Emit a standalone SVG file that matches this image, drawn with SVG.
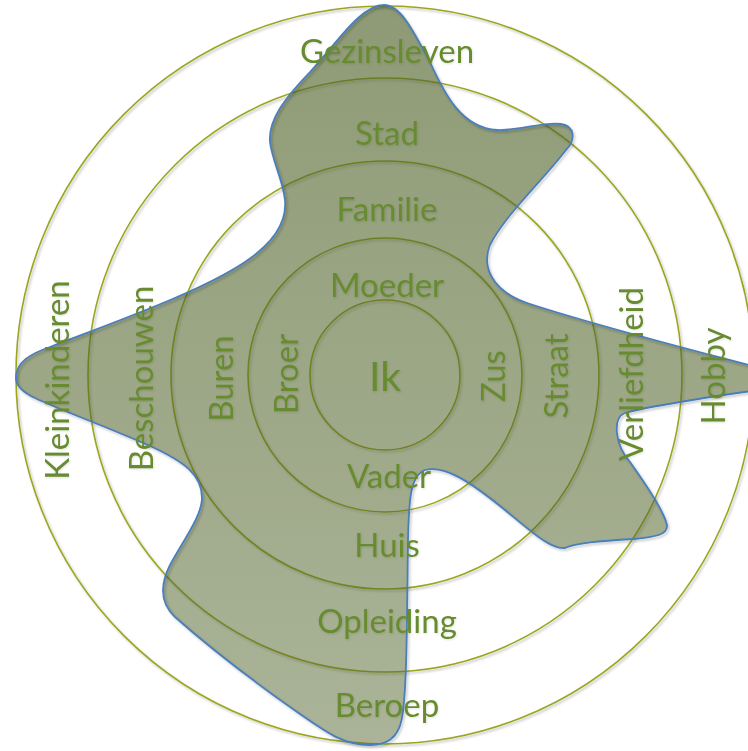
<svg xmlns="http://www.w3.org/2000/svg" width="748" height="751" viewBox="0 0 748 751">
  <defs>
    <filter id="shade" x="-10%" y="-10%" width="120%" height="120%">
      <feDropShadow dx="1.5" dy="1.8" stdDeviation="1.3" flood-color="#000" flood-opacity="0.25"/>
    </filter>
    <filter id="txtShade" x="-10%" y="-20%" width="120%" height="140%">
      <feDropShadow dx="0.8" dy="1" stdDeviation="0.8" flood-color="#000" flood-opacity="0.12"/>
    </filter>
    <linearGradient id="blobFill" gradientUnits="userSpaceOnUse" x1="0" y1="5" x2="0" y2="745">
      <stop offset="0" stop-color="#4f6228" stop-opacity="0.64"/>
      <stop offset="1" stop-color="#4f6228" stop-opacity="0.48"/>
    </linearGradient>
    <path id="blobOutline" d="M 16,378
      C 16,362 30,354 50,347
      C 120,320 200,292 245,262
      C 275,242 287,222 285,200
      C 283,180 272,160 270,142
      C 268,120 285,98 310,72
      C 335,46 360,5 384,5
      C 400,5 412,28 430,62
      C 445,95 462,128 497,130
      C 520,131 545,121 561,124
      C 575,126 576,140 566,150
      C 545,178 505,215 490,245
      C 482,265 490,290 527,303
      C 600,327 700,352 760,368
      C 778,373 778,388 760,390
      C 720,395 640,408 625,413
      C 612,418 615,445 630,462
      C 650,490 665,515 667,525
      C 668,535 655,537 634,539
      C 600,541 575,543 565,548
      C 550,550 530,530 500,506
      C 470,482 445,465 425,470
      C 410,476 409,500 408,540
      C 407,620 407,690 402,718
      C 398,740 385,745 370,745
      C 345,745 330,735 300,714
      C 260,686 210,648 175,617
      C 160,603 160,585 170,565
      C 185,538 202,515 202,498
      C 202,475 185,462 150,446
      C 100,424 60,410 35,398
      C 22,392 16,386 16,378 Z"/>
  </defs>
  <style>
    .ring { fill: none; stroke: #9ba61c; stroke-width: 1.6; }
    .blob { fill: url(#blobFill); stroke: none; }
    .edge { fill: none; stroke: #4a7ebb; stroke-width: 1.8; stroke-linejoin: round; }
    .lbl { font-family: Lato, "Open Sans", "Liberation Sans", sans-serif; font-size: 33px; fill: #678b30; text-anchor: middle; }
    .big { font-size: 41px; }
  </style>

  <rect width="748" height="751" fill="#ffffff"/>

  <!-- concentric rings -->
  <g id="rings" filter="url(#shade)">
    <circle class="ring" cx="385" cy="375" r="369"/>
    <circle class="ring" cx="385" cy="375" r="297"/>
    <circle class="ring" cx="385" cy="375" r="214"/>
    <circle class="ring" cx="385" cy="375" r="137"/>
    <circle class="ring" cx="385" cy="375" r="75"/>
  </g>

  <!-- translucent area of influence: fill, then outline with its own shadow -->
  <g id="area">
    <use href="#blobOutline" class="blob"/>
    <use href="#blobOutline" class="edge" filter="url(#shade)"/>
  </g>

  <!-- ring labels -->
  <g id="labels" filter="url(#txtShade)">
    <g id="n-gezinsleven"><text class="lbl" x="387" y="63">Gezinsleven</text></g>
    <g id="n-stad"><text class="lbl" x="387" y="145">Stad</text></g>
    <g id="n-familie"><text class="lbl" x="387" y="221">Familie</text></g>
    <g id="n-moeder"><text class="lbl" x="387" y="297">Moeder</text></g>
    <g id="n-ik"><text class="lbl big" x="385" y="391">Ik</text></g>
    <g id="n-vader"><text class="lbl" x="389" y="488">Vader</text></g>
    <g id="n-huis"><text class="lbl" x="387" y="557">Huis</text></g>
    <g id="n-opleiding"><text class="lbl" x="387" y="633">Opleiding</text></g>
    <g id="n-beroep"><text class="lbl" x="387" y="717">Beroep</text></g>

    <g id="n-kleinkinderen"><text class="lbl" transform="translate(69,380) rotate(-90)">Kleinkinderen</text></g>
    <g id="n-beschouwen"><text class="lbl" transform="translate(153,378.5) rotate(-90)">Beschouwen</text></g>
    <g id="n-buren"><text class="lbl" transform="translate(233,378.5) rotate(-90)">Buren</text></g>
    <g id="n-broer"><text class="lbl" transform="translate(298,374) rotate(-90)">Broer</text></g>
    <g id="n-zus"><text class="lbl" transform="translate(505,376) rotate(-90)">Zus</text></g>
    <g id="n-straat"><text class="lbl" transform="translate(568,376) rotate(-90)">Straat</text></g>
    <g id="n-verliefdheid"><text class="lbl" transform="translate(643,374) rotate(-90)">Verliefdheid</text></g>
    <g id="n-hobby"><text class="lbl" transform="translate(725,376) rotate(-90)">Hobby</text></g>
  </g>
</svg>
